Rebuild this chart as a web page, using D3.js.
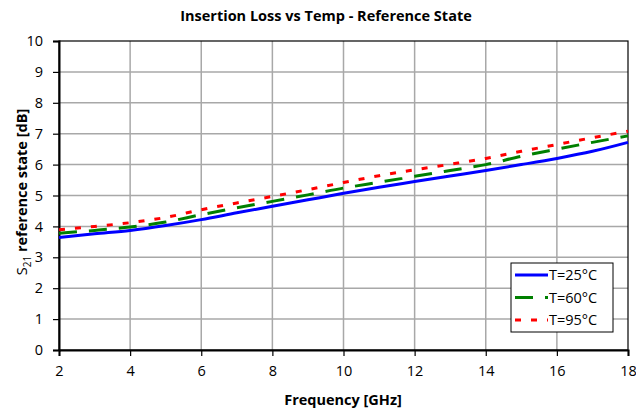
<!DOCTYPE html>
<html>
<head>
<meta charset="utf-8">
<script src="https://cdn.jsdelivr.net/npm/d3@7"></script>
<style>
  html, body { margin: 0; padding: 0; background: #fff; }
  svg { display: block; }
  text { font-family: "Open Sans", "DejaVu Sans", sans-serif; fill: #000; }
</style>
</head>
<body>
<svg id="chart" width="636" height="415"></svg>
<script>
const frequency = [2, 3, 4, 5, 6, 7, 8, 9, 10, 11, 12, 13, 14, 15, 16, 17, 18];
const t25 = [3.64, 3.76, 3.87, 4.03, 4.22, 4.44, 4.65, 4.86, 5.07, 5.27, 5.45, 5.63, 5.81, 6.00, 6.20, 6.43, 6.72];
const t60 = [3.78, 3.87, 3.98, 4.14, 4.38, 4.60, 4.81, 5.02, 5.24, 5.43, 5.62, 5.81, 6.00, 6.27, 6.50, 6.72, 6.93];
const t95 = [3.89, 4.00, 4.12, 4.29, 4.54, 4.76, 4.97, 5.19, 5.42, 5.64, 5.83, 6.01, 6.20, 6.43, 6.65, 6.87, 7.08];
const seriesNames = ["T=25°C", "T=60°C", "T=95°C"];
const seriesColors = ["#0000ff", "#008000", "#ff0000"];
const seriesDash = [null, "18,12", "6,10"];
const xTicks = [2, 4, 6, 8, 10, 12, 14, 16, 18];
const yTicks = [0, 1, 2, 3, 4, 5, 6, 7, 8, 9, 10];

const svg = d3.select("#chart");
const m = { left: 59, right: 628, top: 41, bottom: 350 };
const x = d3.scaleLinear().domain([2, 18]).range([m.left, m.right]);
const y = d3.scaleLinear().domain([0, 10]).range([m.bottom, m.top]);

// grid
svg.append("g").selectAll("line.v").data(xTicks.slice(1, -1)).join("line")
  .attr("x1", d => x(d)).attr("x2", d => x(d)).attr("y1", m.top).attr("y2", m.bottom)
  .attr("stroke", "#a8a8a8").attr("stroke-width", 1.5);
svg.append("g").selectAll("line.h").data(yTicks.slice(1, -1)).join("line")
  .attr("x1", m.left).attr("x2", m.right).attr("y1", d => y(d)).attr("y2", d => y(d))
  .attr("stroke", "#a8a8a8").attr("stroke-width", 1.5);

// frame
svg.append("rect").attr("x", m.left).attr("y", m.top)
  .attr("width", m.right - m.left).attr("height", m.bottom - m.top)
  .attr("fill", "none").attr("stroke", "#000").attr("stroke-width", 1.2);

// axes
const xAxis = svg.append("g").attr("transform", `translate(0,${m.bottom})`)
  .call(d3.axisBottom(x).tickValues(xTicks).tickSize(6).tickPadding(10).tickFormat(d3.format("d")));
const yAxis = svg.append("g").attr("transform", `translate(${m.left},0)`)
  .call(d3.axisLeft(y).tickValues(yTicks).tickSize(6).tickPadding(10).tickFormat(d3.format("d")));
[xAxis, yAxis].forEach(a => {
  a.select(".domain").attr("stroke", "#000").attr("stroke-width", 2);
  a.selectAll(".tick line").attr("stroke", "#000").attr("stroke-width", 1.2);
  a.selectAll(".tick text").style("font-size", "14.5px").style("font-family", "\"Open Sans\", sans-serif").attr("fill", "#000");
});

// lines
const allSeries = [t25, t60, t95];
const line = d3.line().x((d, i) => x(frequency[i])).y(d => y(d)).curve(d3.curveMonotoneX);
allSeries.forEach((s, k) => {
  svg.append("path").datum(s).attr("d", line)
    .attr("fill", "none").attr("stroke", seriesColors[k]).attr("stroke-width", 3)
    .attr("stroke-dasharray", seriesDash[k]);
});

// title & axis labels
svg.append("text").attr("x", 326).attr("y", 21).attr("text-anchor", "middle")
  .style("font-size", "14.5px").style("font-weight", "bold")
  .text("Insertion Loss vs Temp - Reference State");
svg.append("text").attr("x", 343).attr("y", 405).attr("text-anchor", "middle")
  .style("font-size", "14.5px").style("font-weight", "bold")
  .text("Frequency [GHz]");
const yl = svg.append("text").attr("transform", "translate(27,192) rotate(-90)")
  .attr("text-anchor", "middle").style("font-size", "14.5px");
yl.append("tspan").text("S");
yl.append("tspan").attr("dy", 4).style("font-size", "10px").text("21");
yl.append("tspan").attr("dy", -4).style("font-weight", "bold").text(" reference state [dB]");

// legend
const lg = svg.append("g");
lg.append("rect").attr("x", 511).attr("y", 263).attr("width", 102).attr("height", 69)
  .attr("fill", "#fff").attr("stroke", "#000").attr("stroke-width", 1);
seriesNames.forEach((n, k) => {
  const yy = 275 + k * 22.5;
  lg.append("line").attr("x1", 515).attr("x2", 548).attr("y1", yy).attr("y2", yy)
    .attr("stroke", seriesColors[k]).attr("stroke-width", 3).attr("stroke-dasharray", seriesDash[k]);
  lg.append("text").attr("x", 549).attr("y", yy + 5).style("font-size", "14.5px").text(n);
});
</script>
</body>
</html>
